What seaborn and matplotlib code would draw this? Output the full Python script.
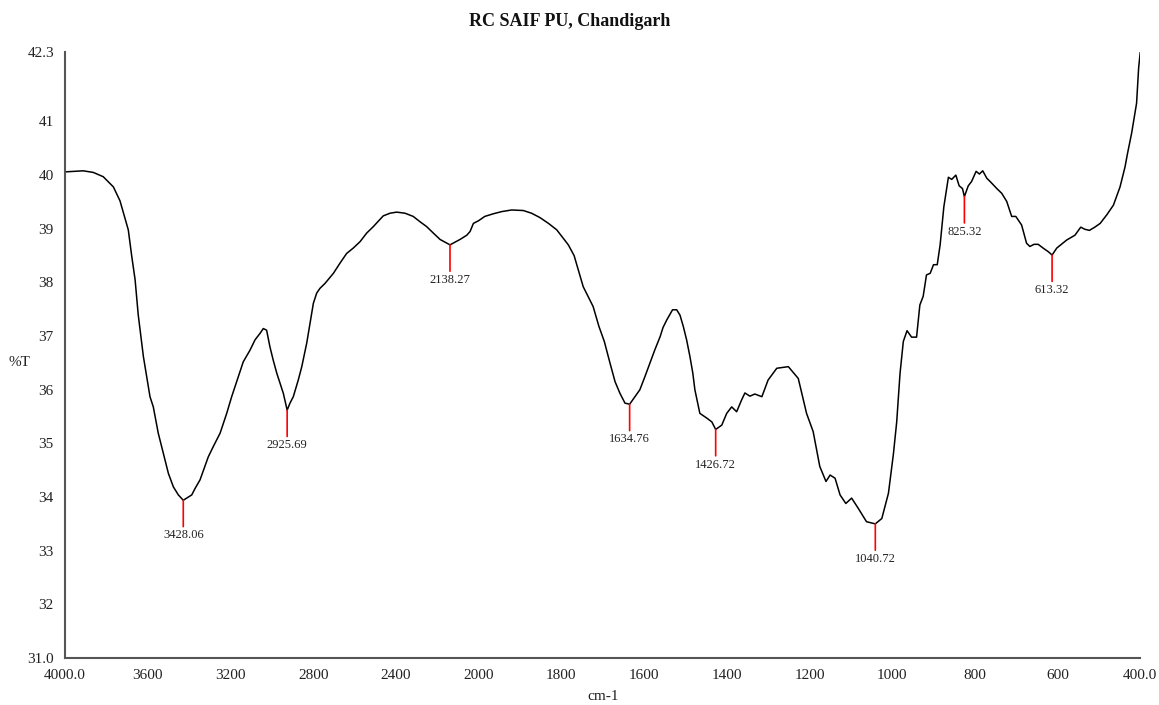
import numpy as np
import pandas as pd
import matplotlib
matplotlib.use("Agg")
import matplotlib.pyplot as plt
import seaborn as sns

# ---------------- data ----------------
wavenumber = [4000, 3960, 3912, 3863, 3815, 3766, 3734, 3694, 3677, 3661, 3653, 3646,
              3621, 3613, 3589, 3573, 3549, 3525, 3500, 3476, 3452, 3428.06, 3387, 3371,
              3347, 3307, 3283, 3250, 3218, 3194, 3162, 3138, 3105, 3081, 3057, 3041,
              3025, 3009, 2993, 2976, 2960, 2944, 2925.69, 2912, 2896, 2872, 2855, 2831,
              2815, 2799, 2783, 2767, 2743, 2702, 2670, 2638, 2606, 2573, 2541, 2509,
              2461, 2428, 2396, 2356, 2316, 2283, 2251, 2219, 2186, 2138.27, 2090, 2057,
              2041, 2025, 2000, 1985, 1964, 1944, 1920, 1892, 1872, 1852, 1831, 1811,
              1783, 1769, 1747, 1723, 1709, 1696, 1682, 1670, 1658, 1646, 1634.76, 1610,
              1598, 1586, 1574, 1561, 1554, 1545, 1531, 1521, 1513, 1505, 1497, 1489,
              1482, 1477, 1465, 1448, 1436, 1426.72, 1412, 1400, 1388, 1376, 1364, 1356,
              1344, 1332, 1315, 1300, 1279, 1251, 1227, 1207, 1191, 1175, 1160, 1150,
              1138, 1126, 1112, 1098, 1082, 1062, 1040.72, 1025, 1009, 997, 989, 981,
              973, 964, 953, 941, 933, 925, 917, 908, 900, 891, 884, 875, 864, 856, 846,
              838, 830, 825.32, 816, 808, 797, 789, 781, 771, 763, 747, 735, 723, 711,
              701, 687, 675, 667, 657, 647, 635, 622, 613.32, 602, 578, 558, 544, 534,
              523, 510, 497, 481, 465, 449, 437, 431, 421, 409, 404, 400]
transmittance = [40.06, 40.07, 40.08, 40.05, 39.97, 39.78, 39.52, 38.98, 38.48, 38.05, 37.70, 37.40,
                 36.62, 36.43, 35.87, 35.68, 35.19, 34.82, 34.44, 34.19, 34.04, 33.94, 34.04, 34.16,
                 34.32, 34.75, 34.94, 35.19, 35.56, 35.87, 36.24, 36.52, 36.74, 36.93, 37.05, 37.14,
                 37.11, 36.80, 36.55, 36.31, 36.12, 35.93, 35.62, 35.75, 35.87, 36.18, 36.43, 36.87,
                 37.24, 37.61, 37.80, 37.89, 37.98, 38.17, 38.36, 38.54, 38.64, 38.76, 38.92, 39.04,
                 39.24, 39.29, 39.31, 39.29, 39.23, 39.13, 39.04, 38.92, 38.80, 38.70, 38.80, 38.88,
                 38.95, 39.10, 39.15, 39.23, 39.28, 39.32, 39.35, 39.34, 39.29, 39.21, 39.10, 38.98,
                 38.70, 38.50, 37.92, 37.55, 37.18, 36.90, 36.49, 36.15, 35.93, 35.75, 35.73, 36.00,
                 36.24, 36.49, 36.74, 36.99, 37.16, 37.30, 37.49, 37.49, 37.39, 37.18, 36.93, 36.62,
                 36.31, 36.00, 35.56, 35.47, 35.40, 35.26, 35.34, 35.56, 35.68, 35.59, 35.81, 35.94,
                 35.88, 35.92, 35.87, 36.18, 36.40, 36.43, 36.21, 35.56, 35.22, 34.57, 34.29, 34.41,
                 34.35, 34.04, 33.88, 33.98, 33.79, 33.54, 33.50, 33.60, 34.07, 34.80, 35.40, 36.30,
                 36.90, 37.10, 36.98, 36.98, 37.58, 37.74, 38.14, 38.17, 38.33, 38.33, 38.70, 39.41,
                 39.96, 39.92, 40.00, 39.80, 39.75, 39.60, 39.80, 39.88, 40.07, 40.02, 40.08, 39.94,
                 39.88, 39.75, 39.66, 39.51, 39.23, 39.23, 39.07, 38.73, 38.67, 38.71, 38.71, 38.64,
                 38.57, 38.51, 38.64, 38.79, 38.88, 39.03, 38.99, 38.97, 39.03, 39.10, 39.26, 39.44,
                 39.78, 40.15, 40.40, 40.78, 41.34, 42.00, 42.30]

peak_wavenumbers = [3428.06, 2925.69, 2138.27, 1634.76, 1426.72, 1040.72, 825.32, 613.32]
peak_transmittance = [33.94, 35.62, 38.70, 35.73, 35.26, 33.50, 39.60, 38.51]
peak_labels = ["3428.06", "2925.69", "2138.27", "1634.76", "1426.72", "1040.72", "825.32", "613.32"]

x_ticks = [4000, 3600, 3200, 2800, 2400, 2000, 1800, 1600, 1400, 1200, 1000, 800, 600, 400]
x_tick_labels = ["4000.0", "3600", "3200", "2800", "2400", "2000", "1800", "1600",
                 "1400", "1200", "1000", "800", "600", "400.0"]
y_ticks = [31.0, 32, 33, 34, 35, 36, 37, 38, 39, 40, 41, 42, 42.3]
y_tick_labels = ["31.0", "32", "33", "34", "35", "36", "37", "38", "39", "40", "41", "", "42.3"]

title = "RC SAIF PU, Chandigarh"
x_label = "cm-1"
y_label = "%T"

# ---------------- styling ----------------
sns.set_style("white")
plt.rcParams["font.family"] = ["Liberation Serif", "DejaVu Serif"]

W, H = 1159, 705
fig = plt.figure(figsize=(W / 100, H / 100), dpi=100)
ax_left, ax_right, ax_top, ax_bottom = 65, 1140.3, 51.7, 658
ax = fig.add_axes([ax_left / W, 1 - ax_bottom / H, (ax_right - ax_left) / W, (ax_bottom - ax_top) / H])

df = pd.DataFrame({"wn": wavenumber, "T": transmittance})
sns.lineplot(data=df, x="wn", y="T", ax=ax, color="black", linewidth=1.1, estimator=None)


# FTIR axis with 2x expansion below 2000 cm-1
def _fwd(x):
    x = np.asarray(x, dtype=float)
    return np.where(x <= 2000, x, 2000 + (x - 2000) / 2.0)


def _inv(u):
    u = np.asarray(u, dtype=float)
    return np.where(u <= 2000, u, 2000 + (u - 2000) * 2.0)


ax.set_xscale("function", functions=(_fwd, _inv))
ax.set_xlim(4000, 400)
ax.set_ylim(31.0, 42.3)

ax.set_xticks(x_ticks)
ax.set_xticklabels(x_tick_labels)
ax.set_yticks(y_ticks)
ax.set_yticklabels(y_tick_labels)
ax.minorticks_off()

for s in ["top", "right"]:
    ax.spines[s].set_visible(False)
for s in ["left", "bottom"]:
    ax.spines[s].set_color("#555555")
    ax.spines[s].set_linewidth(1.5)

ax.tick_params(axis="both", which="major", direction="out", length=4, width=1.2,
               color="#555555", labelsize=11, labelcolor="#222222")
ax.tick_params(axis="x", pad=4)
ax.tick_params(axis="y", pad=4)

ax.set_xlabel(x_label, fontsize=11, color="#222222", va="center")
ax.xaxis.set_label_coords(0.5, -0.064)
ax.set_ylabel(y_label, fontsize=11, color="#222222", rotation=0, ha="center", va="center")
ax.yaxis.set_label_coords(-0.042, 0.488)

# peak markers
for xw, yt, lab in zip(peak_wavenumbers, peak_transmittance, peak_labels):
    ax.annotate("", xy=(xw, yt), xytext=(0, -19), textcoords="offset points",
                xycoords="data",
                arrowprops=dict(arrowstyle="-", color="red", lw=1.2,
                                shrinkA=0, shrinkB=0))
    ax.annotate(lab, xy=(xw, yt), xytext=(0, -21), textcoords="offset points",
                ha="center", va="top", fontsize=9, color="#222222")

fig.text(569.5 / W, 1 - 22 / H, title, ha="center", va="center",
         fontsize=13, fontweight="bold", color="#111111")

fig.savefig("out.png", dpi=100, facecolor="white")
